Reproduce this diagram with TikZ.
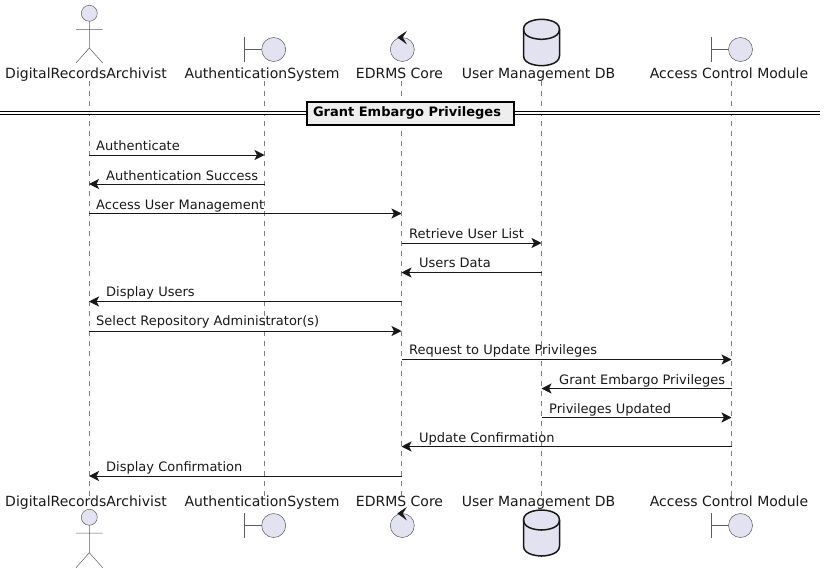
\documentclass[tikz,border=0pt]{standalone}
\usepackage{fontspec}
\setmainfont{DejaVu Sans}
\usetikzlibrary{arrows.meta}
\definecolor{partfill}{HTML}{E2E2F0}
\definecolor{partline}{HTML}{181818}
\definecolor{titlefill}{HTML}{EEEEEE}
\tikzset{
	partlabel/.style={inner sep=0pt, anchor=base, font=\fontsize{14}{16}\selectfont, text=black!90},
	msglabel/.style={inner sep=0pt, anchor=base west, font=\fontsize{13}{15}\selectfont, text=black!90},
	lifeline/.style={draw=partline!55, line width=0.6pt, dash pattern=on 5pt off 5pt},
	msg/.style={-{Stealth[length=10pt,width=10pt,inset=2.5pt]}, draw=partline, line width=1pt},
	iconline/.style={draw=partline!70, fill=partfill, line width=0.5pt},
	stickline/.style={draw=partline!70, line width=0.5pt},
	dbline/.style={draw=partline, fill=partfill, line width=1.5pt}
}
\begin{document}
\begin{tikzpicture}[x=1pt, y=-1pt]
	\useasboundingbox (0, 0) rectangle (825, 573);
	
	% lifeline ends
	\coordinate (la) at (89, 81);
	\coordinate (lb) at (264.5, 81);
	\coordinate (lc) at (401.5, 81);
	\coordinate (ld) at (541.5, 81);
	\coordinate (le) at (731.5, 81);
	\coordinate (lae) at (89, 496);
	\coordinate (lbe) at (264.5, 496);
	\coordinate (lce) at (401.5, 496);
	\coordinate (lde) at (541.5, 496);
	\coordinate (lee) at (731.5, 496);
	
	\path (la) edge[lifeline] (lae);
	\path (lb) edge[lifeline] (lbe);
	\path (lc) edge[lifeline] (lce);
	\path (ld) edge[lifeline] (lde);
	\path (le) edge[lifeline] (lee);
	
	% names
	\node[partlabel] (archivist) at (86, 78) {DigitalRecordsArchivist};
	\node[partlabel] (auth) at (262, 78) {AuthenticationSystem};
	\node[partlabel] (core) at (399.5, 78) {EDRMS Core};
	\node[partlabel] (users) at (538.5, 78) {User Management DB};
	\node[partlabel] (access) at (729, 78) {Access Control Module};
	\node[partlabel] (archivist2) at (86, 506) {DigitalRecordsArchivist};
	\node[partlabel] (auth2) at (262, 506) {AuthenticationSystem};
	\node[partlabel] (core2) at (399.5, 506) {EDRMS Core};
	\node[partlabel] (users2) at (538.5, 506) {User Management DB};
	\node[partlabel] (access2) at (729, 506) {Access Control Module};
	
	% actor
	\draw[iconline] (89.3, 13.3) circle (8);
	\draw[stickline] (89.3, 21.3) -- (89.3, 48) (76, 29.3) -- (102.7, 29.3) (76, 63) -- (89.3, 48) -- (102.7, 63);
	\draw[iconline] (89.3, 517.3) circle (8);
	\draw[stickline] (89.3, 525.3) -- (89.3, 552.7) (76, 533) -- (102.7, 533) (76, 567.7) -- (89.3, 552.7) -- (102.7, 567.7);
	
	% boundaries
	\draw[stickline] (244.7, 37.3) -- (244.7, 61.7) (244.7, 49.5) -- (261.7, 49.5);
	\draw[iconline] (273.7, 49.5) circle (12);
	\draw[stickline] (244.7, 513.3) -- (244.7, 537.7) (244.7, 525.5) -- (261.7, 525.5);
	\draw[iconline] (273.7, 525.5) circle (12);
	\draw[stickline] (711.7, 37.3) -- (711.7, 61.7) (711.7, 49.5) -- (728.5, 49.5);
	\draw[iconline] (740.5, 49.5) circle (12);
	\draw[stickline] (711.7, 513.3) -- (711.7, 537.7) (711.7, 525.5) -- (728.5, 525.5);
	\draw[iconline] (740.5, 525.5) circle (12);
	
	% controls
	\draw[iconline] (402.3, 49.5) circle (12);
	\filldraw[partline, line width=0.5pt] (397.8, 37.4) -- (406, 31.8) -- (402.4, 37.4) -- (406, 43.4) -- cycle;
	\draw[iconline] (402.3, 525.5) circle (12);
	\filldraw[partline, line width=0.5pt] (397.8, 513.4) -- (406, 507.8) -- (402.4, 513.4) -- (406, 519.4) -- cycle;
	
	% databases
	\draw[dbline] (523.5, 29.3) .. controls (523.5, 19.3) and (541.5, 19.3) .. (541.5, 19.3) .. controls (541.5, 19.3) and (559.5, 19.3) .. (559.5, 29.3) -- (559.5, 55.7) .. controls (559.5, 65.7) and (541.5, 65.7) .. (541.5, 65.7) .. controls (541.5, 65.7) and (523.5, 65.7) .. (523.5, 55.7) -- cycle;
	\draw[dbline, fill=none] (523.5, 29.3) .. controls (523.5, 39.3) and (541.5, 39.3) .. (541.5, 39.3) .. controls (541.5, 39.3) and (559.5, 39.3) .. (559.5, 29.3);
	\draw[dbline] (523.5, 520) .. controls (523.5, 510) and (541.5, 510) .. (541.5, 510) .. controls (541.5, 510) and (559.5, 510) .. (559.5, 520) -- (559.5, 546) .. controls (559.5, 556) and (541.5, 556) .. (541.5, 556) .. controls (541.5, 556) and (523.5, 556) .. (523.5, 546) -- cycle;
	\draw[dbline, fill=none] (523.5, 520) .. controls (523.5, 530) and (541.5, 530) .. (541.5, 530) .. controls (541.5, 530) and (559.5, 530) .. (559.5, 520);
	
	% divider
	\coordinate (divl) at (0, 113);
	\coordinate (divr) at (820, 113);
	\draw[black, line width=1pt, double distance=1.7pt] (divl) -- (divr);
	\node[draw=black, line width=2pt, fill=titlefill, minimum width=207pt, minimum height=23pt, inner sep=0pt, font=\fontsize{13}{15}\selectfont\bfseries] (divider) at (410, 113) {\hspace*{-6pt}Grant Embargo Privileges};
	
	% message rows
	\coordinate (y1) at (0, 155);
	\coordinate (y2) at (0, 184);
	\coordinate (y3) at (0, 213.5);
	\coordinate (y4) at (0, 243);
	\coordinate (y5) at (0, 272.5);
	\coordinate (y6) at (0, 301.5);
	\coordinate (y7) at (0, 331);
	\coordinate (y8) at (0, 359.5);
	\coordinate (y9) at (0, 388.5);
	\coordinate (y10) at (0, 417.5);
	\coordinate (y11) at (0, 446.5);
	\coordinate (y12) at (0, 476);
	
	\path (la |- y1) edge[msg] (lb |- y1);
	\path (lb |- y2) edge[msg] (la |- y2);
	\path (la |- y3) edge[msg] (lc |- y3);
	\path (lc |- y4) edge[msg] (ld |- y4);
	\path (ld |- y5) edge[msg] (lc |- y5);
	\path (lc |- y6) edge[msg] (la |- y6);
	\path (la |- y7) edge[msg] (lc |- y7);
	\path (lc |- y8) edge[msg] (le |- y8);
	\path (le |- y9) edge[msg] (ld |- y9);
	\path (ld |- y10) edge[msg] (le |- y10);
	\path (le |- y11) edge[msg] (lc |- y11);
	\path (lc |- y12) edge[msg] (la |- y12);
	
	% message texts
	\node[msglabel] (t1) at (96, 150) {Authenticate};
	\node[msglabel] (t2) at (106, 180) {Authentication Success};
	\node[msglabel] (t3) at (96, 209) {Access User Management};
	\node[msglabel] (t4) at (409, 238) {Retrieve User List};
	\node[msglabel] (t5) at (419, 267) {Users Data};
	\node[msglabel] (t6) at (106, 296) {Display Users};
	\node[msglabel] (t7) at (96, 325) {Select Repository Administrator(s)};
	\node[msglabel] (t8) at (409, 354) {Request to Update Privileges};
	\node[msglabel] (t9) at (559, 384) {Grant Embargo Privileges};
	\node[msglabel] (t10) at (549, 413) {Privileges Updated};
	\node[msglabel] (t11) at (419, 442) {Update Confirmation};
	\node[msglabel] (t12) at (106, 471) {Display Confirmation};
	
\end{tikzpicture}
\end{document}
